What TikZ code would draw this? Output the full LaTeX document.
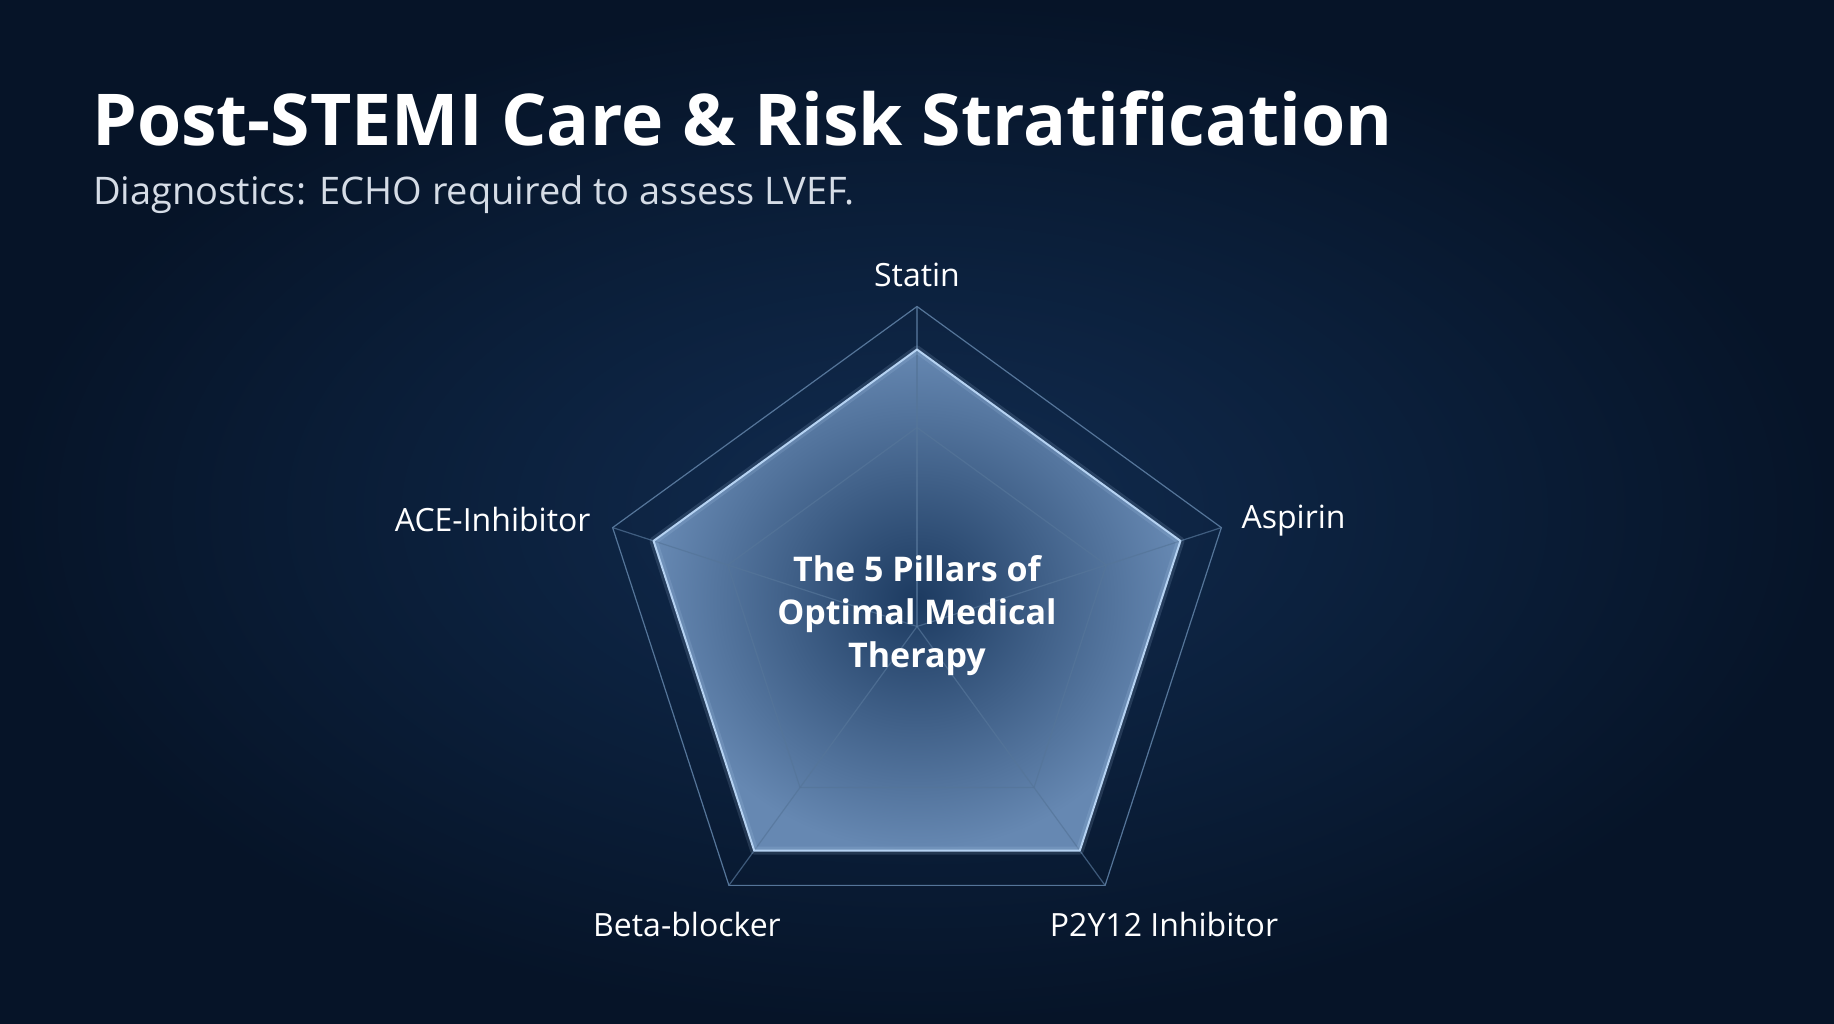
\documentclass[tikz,border=0pt]{standalone}
\usepackage{fontspec}
\setmainfont{Open Sans}
\usetikzlibrary{calc}
\definecolor{bgin}{HTML}{112C50}
\definecolor{bgout}{HTML}{061428}
\definecolor{gridc}{HTML}{557599}
\definecolor{datain}{HTML}{1C3A60}
\definecolor{dataout}{HTML}{6688B2}
\definecolor{edgec}{HTML}{B5D2F2}
\definecolor{subc}{HTML}{D5DCE6}
\begin{document}
\begin{tikzpicture}[x=1pt,y=-1pt,
  gridline/.style={draw=gridc,line width=1.2pt},
  axislabel/.style={text=white,font=\fontsize{32}{36}\selectfont},
]
\useasboundingbox (0,0) rectangle (1834,1024);
\shade[inner color=bgin,outer color=bgout] (0,0) rectangle (1834,1024);
\coordinate (C) at (917,626.5);
\foreach \i/\a in {1/90,2/18,3/-54,4/-126,5/162}{
  \coordinate (o\i) at ($(C)+({320*cos(\a)},{-320*sin(\a)})$);
  \coordinate (g\i) at ($(C)+({199*cos(\a)},{-199*sin(\a)})$);
  \coordinate (d\i) at ($(C)+({277*cos(\a)},{-277*sin(\a)})$);
}
\shade[inner color=datain,outer color=dataout] (d1)--(d2)--(d3)--(d4)--(d5)--cycle;
\draw[gridline] (o1)--(o2)--(o3)--(o4)--(o5)--cycle;
\draw[gridline,draw opacity=0.7] (g1)--(g2)--(g3)--(g4)--(g5)--cycle;
\foreach \i in {1,...,5}{\draw[gridline,draw opacity=0.7] (C)--(o\i);}
\draw[edgec,line width=8pt,opacity=0.15,line join=round] (d1)--(d2)--(d3)--(d4)--(d5)--cycle;
\draw[edgec,line width=2pt,line join=round] (d1)--(d2)--(d3)--(d4)--(d5)--cycle;
\node[anchor=base west,inner sep=0,text=white,font=\fontsize{71.5}{80}\selectfont\bfseries] (title) at (92,146) {Post-STEMI Care \& Risk Stratification};
\node[anchor=base west,inner sep=0,text=subc,font=\fontsize{38}{42}\selectfont] (sub) at (93,205) {Diagnostics: ECHO required to assess LVEF.};
\node[axislabel,anchor=south] (l1) at (917,290) {Statin};
\node[axislabel,anchor=west] (l2) at (1238,521) {Aspirin};
\node[axislabel,anchor=east] (l5) at (594,519) {ACE-Inhibitor};
\node[axislabel] (l4) at (687,924) {Beta-blocker};
\node[axislabel] (l3) at (1164,924) {P2Y12 Inhibitor};
\node[text=white,align=center,font=\fontsize{34}{43}\selectfont\bfseries] (ct) at (917,616) {The 5 Pillars of\\Optimal Medical\\Therapy};
\end{tikzpicture}
\end{document}
